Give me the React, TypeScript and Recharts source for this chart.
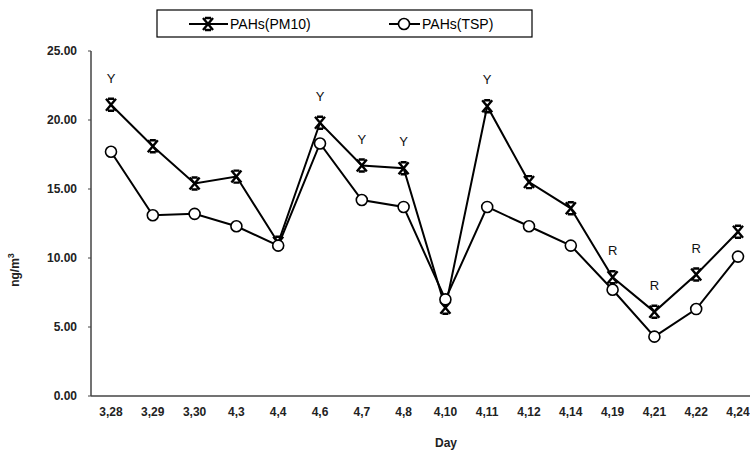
import { LineChart, Line, XAxis, YAxis, Legend, LabelList } from "recharts";

const days = ["3,28", "3,29", "3,30", "4,3", "4,4", "4,6", "4,7", "4,8", "4,10", "4,11", "4,12", "4,14", "4,19", "4,21", "4,22", "4,24"];
const pm10 = [21.1, 18.1, 15.4, 15.9, 11.1, 19.8, 16.7, 16.5, 6.4, 21.0, 15.5, 13.6, 8.6, 6.1, 8.8, 11.9];
const tsp = [17.7, 13.1, 13.2, 12.3, 10.9, 18.3, 14.2, 13.7, 7.0, 13.7, 12.3, 10.9, 7.7, 4.3, 6.3, 10.1];
const notes = ["Y", "", "", "", "", "Y", "Y", "Y", "", "Y", "", "", "R", "R", "R", ""];
const yTicks = [0, 5, 10, 15, 20, 25];

const data = days.map((day, i) => ({ day, pm10: pm10[i], tsp: tsp[i], note: notes[i] }));

const font = "'Liberation Sans', Arial, sans-serif";
const axisText = { fontFamily: font, fontSize: 12, fontWeight: "bold", fill: "#222" };

function CrossDot(props: any) {
  const { cx, cy } = props;
  if (cx == null || cy == null) return null;
  const d = `M${cx - 5} ${cy - 6} L${cx + 5} ${cy + 6} M${cx + 5} ${cy - 6} L${cx - 5} ${cy + 6} M${cx - 3} ${cy - 6} H${cx + 3} M${cx - 3} ${cy + 6} H${cx + 3}`;
  return <path d={d} stroke="#000" strokeWidth={2.4} fill="none" />;
}

function CircleDot(props: any) {
  const { cx, cy } = props;
  if (cx == null || cy == null) return null;
  return <circle cx={cx} cy={cy} r={5.5} fill="#fff" stroke="#000" strokeWidth={1.6} />;
}

function NoteLabel(props: any) {
  const { x, y, value } = props;
  if (!value) return null;
  return (
    <text x={x} y={y - 26} dy={4} textAnchor="middle" fontFamily={font} fontSize={13} fill="#111">
      {value}
    </text>
  );
}

function YTitle() {
  return (
    <text x={19} y={270} transform="rotate(-90 19 270)" textAnchor="middle" fontFamily={font} fontSize={12} fontWeight="bold" fill="#222">
      ng/m<tspan dy={-5} fontSize={9}>3</tspan>
    </text>
  );
}

function XTitle() {
  return (
    <text x={446} y={447} textAnchor="middle" {...axisText}>
      Day
    </text>
  );
}

function LegendBox() {
  return (
    <svg width={378} height={30}>
      <rect x={1} y={1} width={375} height={27} fill="#fff" stroke="#000" strokeWidth={1.2} />
      <line x1={33} y1={15} x2={72} y2={15} stroke="#000" strokeWidth={2} />
      <CrossDot cx={52} cy={15} />
      <text x={74} y={20} fontFamily={font} fontSize={14} fill="#000">PAHs(PM10)</text>
      <line x1={233} y1={15} x2={264} y2={15} stroke="#000" strokeWidth={2} />
      <CircleDot cx={248} cy={15} />
      <text x={266} y={20} fontFamily={font} fontSize={14} fill="#000">PAHs(TSP)</text>
    </svg>
  );
}

export default function App() {
  return (
    <div style={{ width: 750, height: 450, overflow: "hidden", background: "#fff" }}>
      <style>{`body{margin:0}`}</style>
      <LineChart width={750} height={450} data={data} margin={{ top: 17, right: 0, left: 0, bottom: 0 }}>
        <XAxis
          dataKey="day"
          height={54}
          padding={{ left: 20, right: 12 }}
          tickLine={false}
          axisLine={{ stroke: "#444", strokeWidth: 1.5 }}
          tick={axisText}
          tickMargin={5}
          interval={0}
          label={<XTitle />}
        />
        <YAxis
          width={91}
          domain={[0, 25]}
          ticks={yTicks}
          tickFormatter={(v: number) => v.toFixed(2)}
          tickSize={3}
          axisLine={{ stroke: "#444", strokeWidth: 1.5 }}
          tickLine={{ stroke: "#444" }}
          tick={axisText}
          tickMargin={11}
          label={<YTitle />}
        />
        <Legend
          verticalAlign="top"
          content={() => <LegendBox />}
          wrapperStyle={{ top: 9, left: 156, width: 378 }}
        />
        <Line
          dataKey="pm10"
          name="PAHs(PM10)"
          stroke="#000"
          strokeWidth={2}
          dot={<CrossDot />}
          activeDot={false}
          isAnimationActive={false}
        >
          <LabelList dataKey="note" content={<NoteLabel />} />
        </Line>
        <Line
          dataKey="tsp"
          name="PAHs(TSP)"
          stroke="#000"
          strokeWidth={2}
          dot={<CircleDot />}
          activeDot={false}
          isAnimationActive={false}
        />
      </LineChart>
    </div>
  );
}
